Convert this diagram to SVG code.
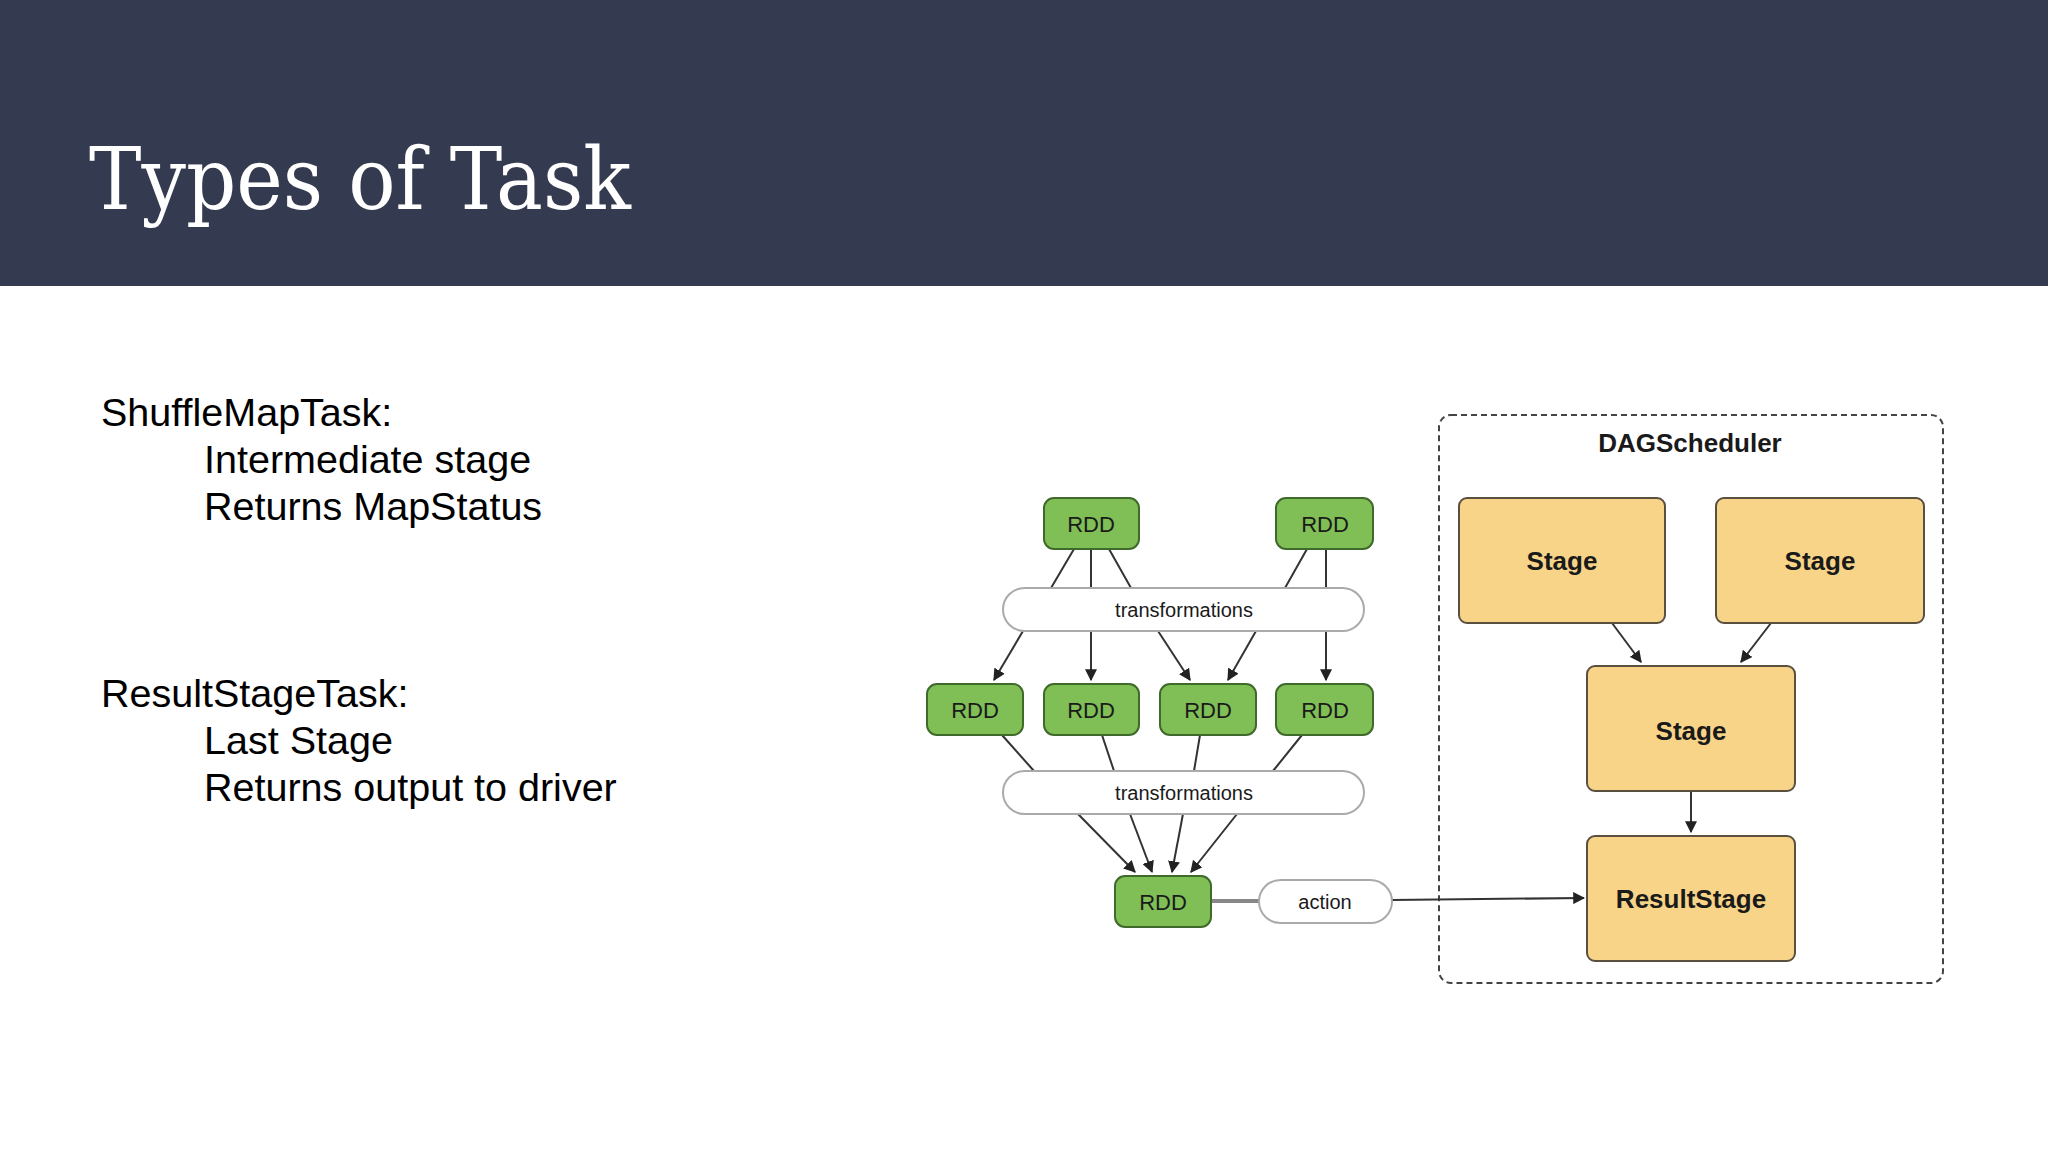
<svg xmlns="http://www.w3.org/2000/svg" width="2048" height="1152" viewBox="0 0 2048 1152">
<style>
.rdd{fill:#80bf55;stroke:#3f6a2c;stroke-width:2}
.stg{fill:#f8d488;stroke:#5a5040;stroke-width:2}
.pill{fill:#fff;stroke:#aaa;stroke-width:2}
.t{font-family:"Liberation Sans",Arial,sans-serif;fill:#1a1a1a;text-anchor:middle}
.body{font-family:"Liberation Sans",Arial,sans-serif;font-size:39.5px;fill:#000}
.ln{stroke:#333;stroke-width:2;fill:none}
.ar{stroke:#333;stroke-width:2;fill:none;marker-end:url(#a)}
</style>
<defs><marker id="a" viewBox="0 0 10 10" refX="9" refY="5" markerWidth="6" markerHeight="6" orient="auto"><path d="M0,0L10,5L0,10z" fill="#222"/></marker></defs>
<rect width="2048" height="1152" fill="#fff"/>
<rect width="2048" height="286" fill="#343a4f"/>
<text x="89" y="209" font-family="'DejaVu Serif','Liberation Serif',serif" font-size="86" fill="#fff" textLength="542" lengthAdjust="spacingAndGlyphs">Types of Task</text>
<text class="body" x="101" y="426">ShuffleMapTask:</text>
<text class="body" x="204" y="473">Intermediate stage</text>
<text class="body" x="204" y="520">Returns MapStatus</text>
<text class="body" x="101" y="707">ResultStageTask:</text>
<text class="body" x="204" y="754">Last Stage</text>
<text class="body" x="204" y="801">Returns output to driver</text>
<g id="dag"><rect x="1439" y="415" width="504" height="568" rx="12" fill="none" stroke="#444" stroke-width="2" stroke-dasharray="6,4"/>
<text class="t" x="1690" y="452" font-size="26" font-weight="bold">DAGScheduler</text></g>
<g id="connectors">
<path class="ln" d="M1074,549L1051,588M1091,549L1091,588M1109,549L1131,588M1307,549L1285,588M1326,549L1326,588"/>
<path class="ar" d="M1023,631L994,680"/><path class="ar" d="M1091,631L1091,680"/><path class="ar" d="M1158,631L1190,680"/><path class="ar" d="M1256,631L1228,680"/><path class="ar" d="M1326,631L1326,680"/>
<path class="ln" d="M1002,735L1034,771M1102,735L1114,771M1200,735L1194,771M1302,735L1273,771"/>
<path class="ar" d="M1078,814L1135,872"/><path class="ar" d="M1130,814L1152,872"/><path class="ar" d="M1183,814L1172,872"/><path class="ar" d="M1237,814L1191,872"/>
<path d="M1211,901L1259,901" stroke="#888" stroke-width="4"/>
<path class="ar" d="M1392,900L1584,898"/>
<path class="ar" d="M1612,623L1641,662"/><path class="ar" d="M1771,623L1741,662"/><path class="ar" d="M1691,791L1691,832"/>
</g>
<g id="rdd1"><rect class="rdd" x="1044" y="498" width="95" height="51" rx="10"/><text class="t" x="1091" y="532" font-size="22">RDD</text></g>
<g id="rdd2"><rect class="rdd" x="1276" y="498" width="97" height="51" rx="10"/><text class="t" x="1325" y="532" font-size="22">RDD</text></g>
<g id="tr1"><rect class="pill" x="1003" y="588" width="361" height="43" rx="21.5"/><text class="t" x="1184" y="617" font-size="20">transformations</text></g>
<g id="rdd3"><rect class="rdd" x="927" y="684" width="96" height="51" rx="10"/><text class="t" x="975" y="718" font-size="22">RDD</text></g>
<g id="rdd4"><rect class="rdd" x="1044" y="684" width="95" height="51" rx="10"/><text class="t" x="1091" y="718" font-size="22">RDD</text></g>
<g id="rdd5"><rect class="rdd" x="1160" y="684" width="96" height="51" rx="10"/><text class="t" x="1208" y="718" font-size="22">RDD</text></g>
<g id="rdd6"><rect class="rdd" x="1276" y="684" width="97" height="51" rx="10"/><text class="t" x="1325" y="718" font-size="22">RDD</text></g>
<g id="tr2"><rect class="pill" x="1003" y="771" width="361" height="43" rx="21.5"/><text class="t" x="1184" y="800" font-size="20">transformations</text></g>
<g id="rdd7"><rect class="rdd" x="1115" y="876" width="96" height="51" rx="10"/><text class="t" x="1163" y="910" font-size="22">RDD</text></g>
<g id="action"><rect class="pill" x="1259" y="880" width="133" height="43" rx="21.5"/><text class="t" x="1325" y="909" font-size="20">action</text></g>
<g id="s1"><rect class="stg" x="1459" y="498" width="206" height="125" rx="8"/><text class="t" x="1562" y="570" font-size="26" font-weight="bold">Stage</text></g>
<g id="s2"><rect class="stg" x="1716" y="498" width="208" height="125" rx="8"/><text class="t" x="1820" y="570" font-size="26" font-weight="bold">Stage</text></g>
<g id="s3"><rect class="stg" x="1587" y="666" width="208" height="125" rx="8"/><text class="t" x="1691" y="740" font-size="26" font-weight="bold">Stage</text></g>
<g id="rs"><rect class="stg" x="1587" y="836" width="208" height="125" rx="8"/><text class="t" x="1691" y="908" font-size="26" font-weight="bold">ResultStage</text></g>
</svg>
